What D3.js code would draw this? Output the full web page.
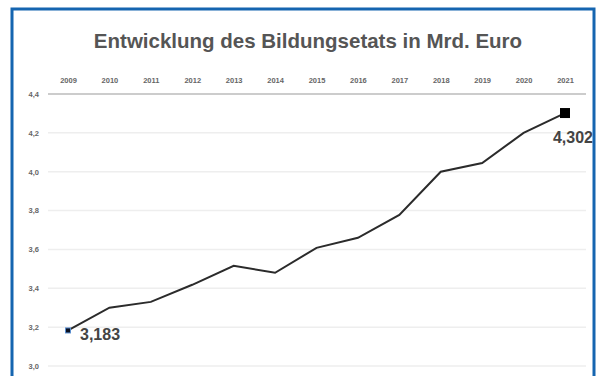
<!DOCTYPE html>
<html>
<head>
<meta charset="utf-8">
<script src="https://cdn.jsdelivr.net/npm/d3@7"></script>
<style>
  body { margin: 0; background: #fff; overflow: hidden; }
  svg { display: block; font-family: "Liberation Sans", Arial, sans-serif; }
</style>
</head>
<body>
<svg id="chart"></svg>
<script>
// data
let years = [2009, 2010, 2011, 2012, 2013, 2014, 2015, 2016, 2017, 2018, 2019, 2020, 2021]
let values = [3.183, 3.30, 3.33, 3.418, 3.516, 3.48, 3.608, 3.66, 3.778, 4.0, 4.045, 4.2, 4.302]
let yTicks = [3.0, 3.2, 3.4, 3.6, 3.8, 4.0, 4.2, 4.4]
let title = "Entwicklung des Bildungsetats in Mrd. Euro"

let svg = d3.select("#chart").attr("width", 606).attr("height", 376)

function translate(x, y){
    return "translate(" + x + ", " + y + ")"
}

// blue frame (bottom cut off)
svg.append("rect")
    .attr("x", 12).attr("y", 9)
    .attr("width", 582).attr("height", 420)
    .attr("fill", "none")
    .attr("stroke", "#1565b0")
    .attr("stroke-width", 3)

svg.append("text")
    .attr("x", 308).attr("y", 48)
    .attr("text-anchor", "middle")
    .style("font-size", "20.5px").style("font-weight", "bold")
    .style("fill", "#555")
    .text(title)

let x = d3.scalePoint().domain(years).range([68, 565]),
    y = d3.scaleLinear().domain([3.0, 4.4]).range([366, 94])

let fmt = d => d3.format(".1f")(d).replace(".", ",")

// grid lines
let grid = svg.append("g")
grid.selectAll("line").data(yTicks)
    .enter().append("line")
    .attr("x1", 48).attr("x2", 586)
    .attr("y1", d => y(d)).attr("y2", d => y(d))
    .attr("stroke", d => d == 4.4 ? "#999" : "#eee")
    .attr("stroke-width", d => d == 4.4 ? 1 : 1.5)

// y labels
let yAxis = d3.axisLeft(y).tickValues(yTicks).tickFormat(fmt).tickSize(0).tickPadding(0)
let gy = svg.append("g").attr("transform", translate(39, 0)).call(yAxis)
gy.select(".domain").remove()
gy.selectAll("text")
    .attr("dy", "0.32em")
    .style("font-size", "7.5px").style("font-weight", "bold")
    .style("fill", "#666").style("font-family", "Liberation Sans, Arial, sans-serif")

// year labels on top
let xAxis = d3.axisTop(x).tickSize(0).tickPadding(0)
let gx = svg.append("g").attr("transform", translate(0, 83)).call(xAxis)
gx.select(".domain").remove()
gx.selectAll("text")
    .style("font-size", "7.5px").style("font-weight", "bold")
    .style("fill", "#666").style("font-family", "Liberation Sans, Arial, sans-serif")

let pts = years.map((yr, i) => ({year: yr, value: values[i]}))

let line = d3.line().x(d => x(d.year)).y(d => y(d.value))
svg.append("path")
    .datum(pts)
    .attr("d", line)
    .attr("fill", "none")
    .attr("stroke", "#2b2b2b")
    .attr("stroke-width", 2)

// first point marker (small, selected look)
let first = pts[0], last = pts[pts.length - 1]
svg.append("rect")
    .attr("x", x(first.year) - 2.5).attr("y", y(first.value) - 2.5)
    .attr("width", 5).attr("height", 5)
    .attr("fill", "#0a1020")
    .attr("stroke", "#5b8fd0").attr("stroke-width", 1)

// last point marker (big)
svg.append("rect")
    .attr("x", x(last.year) - 5).attr("y", y(last.value) - 5)
    .attr("width", 10).attr("height", 10)
    .attr("fill", "#000")

let valFmt = v => d3.format(".3f")(v).replace(".", ",")

svg.append("text")
    .attr("x", x(first.year) + 12).attr("y", y(first.value) + 10)
    .style("font-size", "16px").style("font-weight", "bold")
    .style("fill", "#444")
    .text(valFmt(first.value))

svg.append("text")
    .attr("x", x(last.year) + 28).attr("y", y(last.value) + 30)
    .attr("text-anchor", "end")
    .style("font-size", "16px").style("font-weight", "bold")
    .style("fill", "#444")
    .text(valFmt(last.value))
</script>
</body>
</html>
